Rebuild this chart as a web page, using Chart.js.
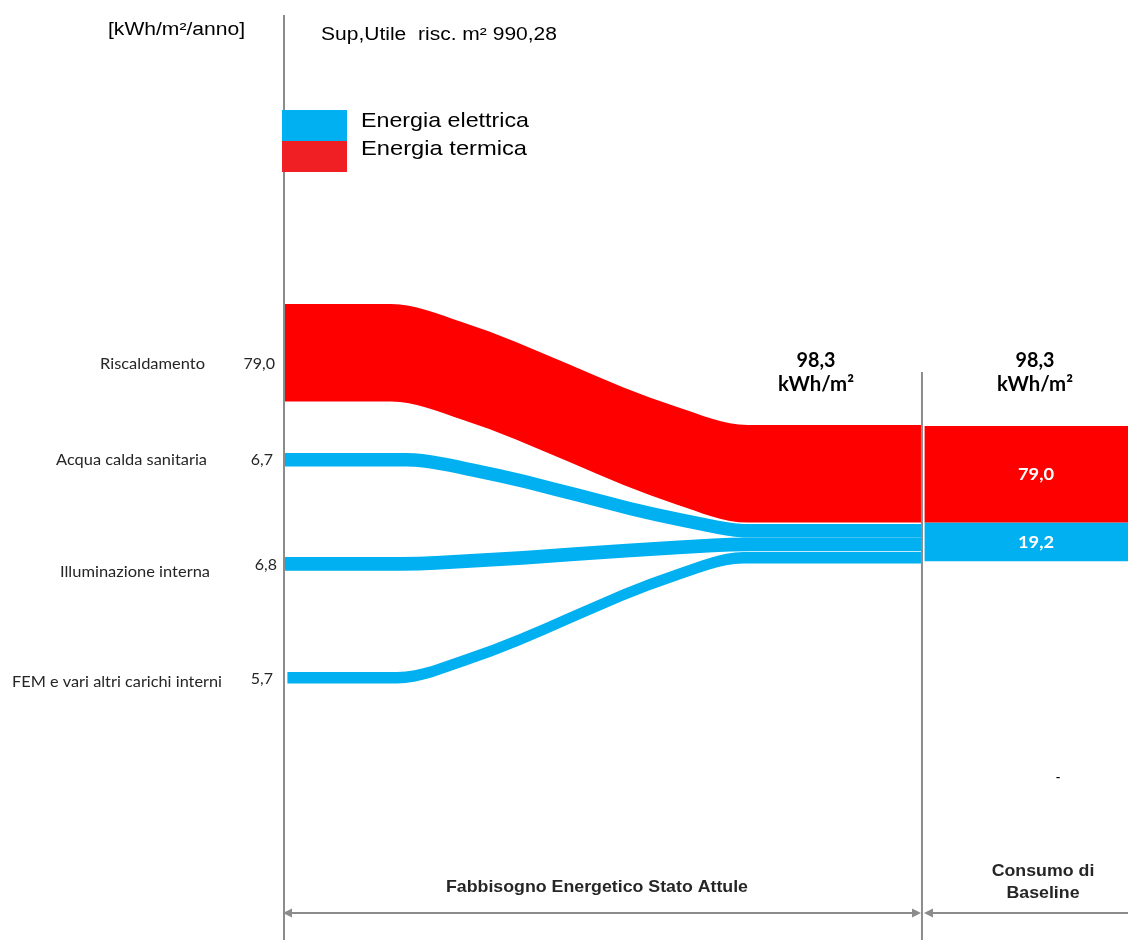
<!DOCTYPE html>
<html><head><meta charset="utf-8">
<script src="https://cdn.jsdelivr.net/npm/chart.js@4.4.0/dist/chart.umd.min.js"></script>
<style>html,body{margin:0;padding:0;background:#fff;overflow:hidden}canvas{display:block}</style>
</head><body>
<canvas id="c" width="1128" height="940"></canvas>
<script>
// ---------- data ----------
const categories = ['Riscaldamento', 'Acqua calda sanitaria', 'Illuminazione interna', 'FEM e vari altri carichi interni'];
const values = [79.0, 6.7, 6.8, 5.7];
const valueLabels = ['79,0', '6,7', '6,8', '5,7'];
const energyType = ['termica', 'elettrica', 'elettrica', 'elettrica'];
const legendLabels = ['Energia elettrica', 'Energia termica'];
const typeTotals = [79.0, 19.2];          // termica, elettrica
const typeTotalLabels = ['79,0', '19,2'];
const grandTotalLabel = '98,3';
const unitLabel = 'kWh/m²';
const stageTitles = ['Fabbisogno Energetico Stato Attule', 'Consumo di', 'Baseline'];
const axisTitle = '[kWh/m²/anno]';
const areaNote = 'Sup,Utile  risc. m² 990,28';
const leftLaneTop = [304, 453, 557, 672];   // vertical lane of each flow at the left (diagram units)
const flowStartX = [0, 0, 0, 0.5];          // where each flow starts (diagram units)
const bendStartX = [12.8, 14.5, 14, 13.5];  // where each flow leaves its lane
const bendEndX = [55, 55.5, 55, 54.5];      // where each flow reaches the node

// ---------- layout helpers ----------
const X = { node: 75.5, block: 75.9, end: 100 };
const nodeTop = 425;
const kT = 1.235, kE = 2.02;               // band thickness per kWh/m² (thermal / electric)
const gapAfter = [1.5, 0, 0.6, 0];
const COL = { termica: '#FF0000', elettrica: '#00B0F0' };
const thick = i => values[i] * (energyType[i] === 'termica' ? kT : kE);
const shapeT = [0, 0.2, 0.8, 1], shapeY = [0, 0.15, 0.85, 1];   // S-bend profile

const rightTop = [];
let cur = nodeTop;
values.forEach((v, i) => { rightTop[i] = cur; cur += thick(i) + gapAfter[i]; });

const datasets = [];
values.forEach((v, i) => {
  const t = thick(i), c = COL[energyType[i]];
  const l = leftLaneTop[i], r = rightTop[i], bs = bendStartX[i], be = bendEndX[i];
  const pts = [{ x: flowStartX[i], y: l }];
  shapeT.forEach((f, k) => pts.push({ x: bs + f * (be - bs), y: l + shapeY[k] * (r - l) }));
  pts.push({ x: X.node, y: r });
  datasets.push({ label: categories[i], data: pts,
    backgroundColor: c, borderColor: 'transparent', borderWidth: 0, fill: '+1' });
  datasets.push({ label: categories[i] + ' bottom', data: pts.map(p => ({ x: p.x, y: p.y + t })),
    borderColor: 'transparent', borderWidth: 0, fill: false });
});
// baseline block (stacked totals)
const blockT = typeTotals[0] * kT, blockE = typeTotals[1] * kE;
const blockEdges = [nodeTop + 1, nodeTop + blockT, nodeTop + blockT + blockE];
[[0, COL.termica], [1, COL.elettrica]].forEach(([j, c]) => {
  datasets.push({ label: 'block' + j, data: [{ x: X.block, y: blockEdges[j] }, { x: X.end, y: blockEdges[j] }],
    backgroundColor: c, borderColor: 'transparent', borderWidth: 0, fill: '+1' });
  datasets.push({ label: 'block' + j + ' bottom', data: [{ x: X.block, y: blockEdges[j + 1] }, { x: X.end, y: blockEdges[j + 1] }],
    borderColor: 'transparent', borderWidth: 0, fill: false });
});

function fitText(ctx, text, x, y, font, width, align, scale) {
  ctx.save();
  ctx.font = font;
  const w = ctx.measureText(text).width;
  const s = scale || (width ? width / w : 1);
  let x0 = x;
  if (align === 'center') x0 = x - (w * s) / 2;
  else if (align === 'right') x0 = x - w * s;
  ctx.translate(x0, y);
  ctx.scale(s, 1);
  ctx.textAlign = 'left';
  ctx.fillText(text, 0, 0);
  ctx.restore();
  return s;
}

const decor = {
  id: 'decor',
  afterDatasetsDraw(chart) {
    const ctx = chart.ctx, xs = chart.scales.x, ys = chart.scales.y;
    const px = v => xs.getPixelForValue(v), py = v => ys.getPixelForValue(v);
    const gray = '#8C8C8C';
    ctx.save();
    // vertical guide lines
    ctx.strokeStyle = gray; ctx.lineWidth = 2;
    ctx.beginPath(); ctx.moveTo(px(0) + 1, 15); ctx.lineTo(px(0) + 1, 940); ctx.stroke();
    ctx.beginPath(); ctx.moveTo(px(X.node) + 1, 372); ctx.lineTo(px(X.node) + 1, 940); ctx.stroke();
    // dimension arrows
    const ay = 913;
    ctx.beginPath(); ctx.moveTo(px(0) + 4, ay); ctx.lineTo(px(X.node) - 4, ay); ctx.stroke();
    ctx.beginPath(); ctx.moveTo(px(X.node) + 6, ay); ctx.lineTo(px(X.end), ay); ctx.stroke();
    ctx.fillStyle = gray;
    const head = (tx, dir) => { ctx.beginPath(); ctx.moveTo(tx, ay); ctx.lineTo(tx + dir * 9, ay - 4.5); ctx.lineTo(tx + dir * 9, ay + 4.5); ctx.closePath(); ctx.fill(); };
    head(px(0), 1); head(px(X.node), -1); head(px(X.node) + 3, 1);

    // legend
    ctx.fillStyle = '#00B0F0'; ctx.fillRect(282, 110, 65, 31);
    ctx.fillStyle = '#EF1F24'; ctx.fillRect(282, 141, 65, 31);
    ctx.fillStyle = '#000'; ctx.textBaseline = 'alphabetic';
    fitText(ctx, legendLabels[0], 361, 127, '21px "Liberation Sans", Arial, sans-serif', 168, 'left');
    fitText(ctx, legendLabels[1], 361, 155, '21px "Liberation Sans", Arial, sans-serif', 166, 'left');

    // header texts
    fitText(ctx, axisTitle, 108, 35, '18px "Liberation Sans", Arial, sans-serif', 137, 'left');
    fitText(ctx, areaNote, 321, 40, '18px "Liberation Sans", Arial, sans-serif', 236, 'left');

    // category labels and values
    ctx.fillStyle = '#262626';
    const labRight = [205, 207, 210, 222], labW = [105, 151, 150, 210], labBase = [369, 465, 577, 687];
    const valRight = [275, 273, 277, 273], valBase = [369, 465, 570, 684];
    categories.forEach((c, i) => {
      fitText(ctx, c, labRight[i], labBase[i], '16px Lato, "Open Sans", sans-serif', labW[i], 'right');
      fitText(ctx, valueLabels[i], valRight[i], valBase[i], '16px Lato, "Open Sans", sans-serif', null, 'right');
    });

    // totals above nodes
    ctx.fillStyle = '#000';
    [816, 1035].forEach(cx => {
      fitText(ctx, grandTotalLabel, cx, 367, 'bold 20px Lato, "Open Sans", sans-serif', 39, 'center');
      fitText(ctx, unitLabel, cx, 391, 'bold 20px Lato, "Open Sans", sans-serif', 76, 'center');
    });
    // values inside baseline block
    ctx.fillStyle = '#fff';
    fitText(ctx, typeTotalLabels[0], 1036, py((blockEdges[0] + blockEdges[1]) / 2) + 6, 'bold 17px Lato, "Open Sans", sans-serif', 36, 'center');
    fitText(ctx, typeTotalLabels[1], 1036, py((blockEdges[1] + blockEdges[2]) / 2) + 6, 'bold 17px Lato, "Open Sans", sans-serif', 36, 'center');

    // stage titles (condensed bold)
    ctx.fillStyle = '#262626';
    const f = 'bold 17px "Liberation Sans", Arial, sans-serif';
    const s = fitText(ctx, stageTitles[0], 597, 892, f, 302, 'center');
    fitText(ctx, stageTitles[1], 1043, 876, f, null, 'center', s);
    fitText(ctx, stageTitles[2], 1043, 898, f, null, 'center', s);
    ctx.fillStyle = '#000';
    fitText(ctx, '-', 1058, 782, '14px "Liberation Sans", Arial, sans-serif', null, 'center');
    ctx.restore();
  }
};

new Chart(document.getElementById('c'), {
  type: 'line',
  data: { datasets },
  options: {
    responsive: false,
    animation: false,
    layout: { padding: { left: 283, right: 0, top: 0, bottom: 0 } },
    scales: {
      x: { type: 'linear', min: 0, max: 100, display: false },
      y: { type: 'linear', min: 0, max: 940, reverse: true, display: false }
    },
    elements: { point: { radius: 0 }, line: { cubicInterpolationMode: 'monotone' } },
    plugins: { legend: { display: false }, tooltip: { enabled: false } }
  },
  plugins: [decor]
});
</script>
</body></html>
